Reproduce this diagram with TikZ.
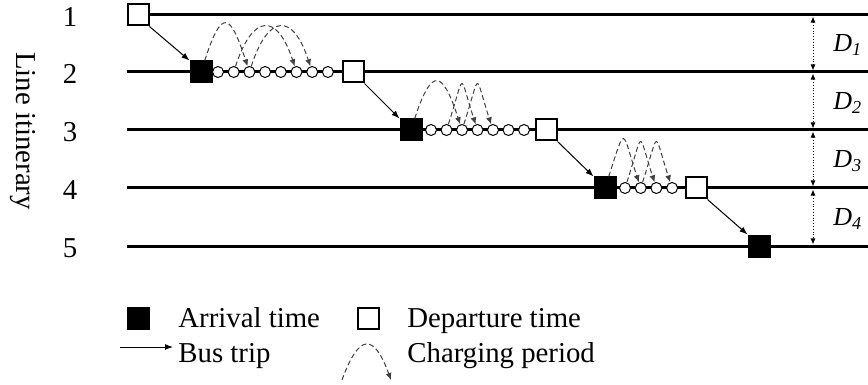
\documentclass[tikz,border=0pt]{standalone}
\usepackage{fontspec}
\setmainfont{Liberation Serif}
\usetikzlibrary{arrows.meta}

\begin{document}
\begin{tikzpicture}
  [x=0.5pt,y=-0.5pt,
   arr/.style={rectangle,draw,fill=black,line width=1pt,minimum size=10.5pt,inner sep=0pt},
   dep/.style={rectangle,draw,fill=white,line width=1pt,minimum size=10.5pt,inner sep=0pt},
   stop/.style={circle,draw,fill=white,line width=0.5pt,minimum size=5.5pt,inner sep=0pt},
   trip/.style={line width=0.5pt,-{Latex[length=4pt,width=3pt]}},
   charge/.style={line width=0.5pt,black!75,dash pattern=on 2.5pt off 1.5pt,-{Latex[length=3.5pt,width=3pt]}},
   gap/.style={line width=0.4pt,densely dotted,{Latex[length=3pt,width=2.5pt]}-{Latex[length=3pt,width=2.5pt]}},
   lbl/.style={font=\fontsize{14.4}{17}\selectfont,anchor=base west,inner sep=0pt}]
  \useasboundingbox (0,0) rectangle (868,385);

  % itinerary lines
  \foreach \i/\y in {1/15,2/72,3/130,4/188,5/246} {
    \coordinate (l\i) at (127,\y);
    \coordinate (r\i) at (868,\y);
    \coordinate (g\i) at (813,\y);
    \node[font=\fontsize{14.4}{17}\selectfont] (n\i) at (70,\y+2) {\i};
    \draw[line width=1.5pt] (l\i) -- (r\i);
  }
  \node[rotate=-90,font=\fontsize{14.4}{17}\selectfont] (axis) at (23,131) {Line itinerary};

  % stops along the lines
  \node[dep] (dep1) at (138,15) {};
  \node[arr] (arr2) at (201,72) {};
  \foreach \i in {1,...,8}
    \node[stop] (c2-\i) at ({218+15.7*(\i-1)},72) {};
  \node[dep] (dep2) at (353,72) {};
  \node[arr] (arr3) at (411,130) {};
  \foreach \i in {1,...,7}
    \node[stop] (c3-\i) at ({431+15.5*(\i-1)},130) {};
  \node[dep] (dep3) at (546,130) {};
  \node[arr] (arr4) at (605,188) {};
  \foreach \i in {1,...,4}
    \node[stop] (c4-\i) at ({625+15.7*(\i-1)},188) {};
  \node[dep] (dep4) at (696,188) {};
  \node[arr] (arr5) at (759,246) {};

  % bus trips
  \foreach \a/\b in {dep1/arr2,dep2/arr3,dep3/arr4,dep4/arr5}
    \draw[trip] (\a.south east) -- (\b.north west);

  % charging periods
  \foreach \a/\b in {arr2/c2-3,c2-2/c2-6,c2-3/c2-7,arr3/c3-3,c3-2/c3-4,c3-3/c3-5,arr4/c4-2,c4-1/c4-3,c4-2/c4-4}
    \draw[charge] (\a) to[out=72,in=108,distance=28pt] (\b);

  % distances between lines
  \foreach \i/\j/\y in {1/2/52,2/3/109.5,3/4/167.5,4/5/225.5} {
    \draw[gap,shorten <=0.8pt,shorten >=0.8pt] (g\i) -- (g\j);
    \node[font=\fontsize{13}{15}\selectfont,anchor=base west,inner sep=0pt] (D\i) at (833,\y) {\textit{D}\textsubscript{\textit{\i}}};
  }

  % legend
  \node[arr] (keyarr) at (138,318) {};
  \node[lbl] (keyarrtxt) at (178,327) {Arrival time};
  \node[dep] (keydep) at (368,318) {};
  \node[lbl] (keydeptxt) at (407,327) {Departure time};
  \coordinate (trip0) at (120,347);
  \coordinate (trip1) at (173,347);
  \draw[trip] (trip0) -- (trip1);
  \node[lbl] (keytriptxt) at (178,362) {Bus trip};
  \coordinate (chg0) at (342,380);
  \coordinate (chg1) at (391,380);
  \draw[charge] (chg0) to[out=70,in=110,distance=25pt] (chg1);
  \node[lbl] (keychgtxt) at (407,362) {Charging period};
\end{tikzpicture}
\end{document}
